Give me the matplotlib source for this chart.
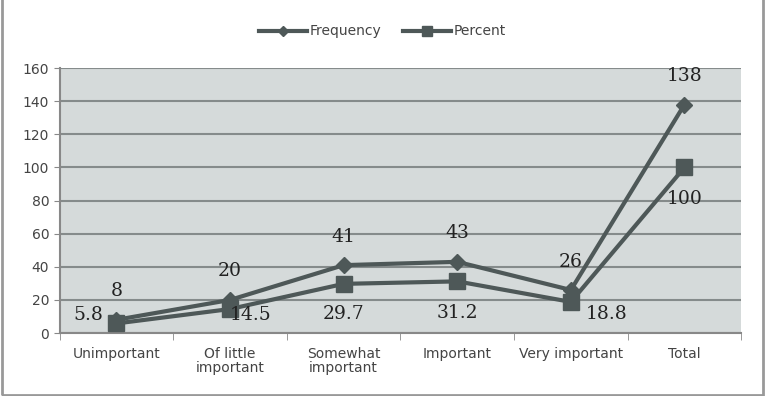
import matplotlib.pyplot as plt
from matplotlib.patches import Rectangle

# data
categories = ["Unimportant", "Of little\nimportant", "Somewhat\nimportant",
              "Important", "Very important", "Total"]
frequency = [8, 20, 41, 43, 26, 138]
percent = [5.8, 14.5, 29.7, 31.2, 18.8, 100]
yticks = [0, 20, 40, 60, 80, 100, 120, 140, 160]

line_col = "#4e5858"
bg_col = "#d5dada"
grid_col = "#858b8b"

fig = plt.figure(figsize=(7.65, 3.96), dpi=100)
ax = fig.add_axes([0.078, 0.159, 0.891, 0.669])
ax.set_facecolor(bg_col)

x = list(range(len(categories)))
ax.plot(x, frequency, color=line_col, lw=3, marker="D", ms=8,
        label="Frequency", zorder=3)
ax.plot(x, percent, color=line_col, lw=3, marker="s", ms=11,
        label="Percent", zorder=3)

# data labels
lab_font = dict(family="DejaVu Serif", fontsize=13.5, color="#222222")
freq_off = [(0, 14), (0, 14), (0, 14), (0, 14), (0, 14), (0, 14)]
for i, v in enumerate(frequency):
    ax.annotate(str(v), (i, v), xytext=freq_off[i], textcoords="offset points",
                ha="center", va="bottom", **lab_font)
pct_off = [(-20, 6), (15, -4), (0, -22), (0, -23), (26, -9), (0, -23)]
for i, v in enumerate(percent):
    ax.annotate(str(v), (i, v), xytext=pct_off[i], textcoords="offset points",
                ha="center", va="center", **lab_font)

ax.set_xlim(-0.5, len(categories) - 0.5)
ax.set_ylim(0, 160)
ax.set_yticks(yticks)
ax.yaxis.grid(True, color=grid_col, lw=1.5)
ax.set_axisbelow(True)

ax.set_xticks(x)
ax.set_xticklabels(categories, fontsize=10, color="#444444", linespacing=1.0)
ax.set_xticks([i + 0.5 for i in range(-1, len(categories))], minor=True)
ax.tick_params(axis="x", which="major", length=0, pad=10)
ax.tick_params(axis="x", which="minor", length=5, color="#888888")
ax.tick_params(axis="y", length=4, color="#888888", labelsize=10,
               labelcolor="#444444")

for s in ["top", "right"]:
    ax.spines[s].set_visible(False)
ax.spines["left"].set_color("#888888")
ax.spines["bottom"].set_color("#888888")
ax.spines["left"].set_linewidth(1.5)
ax.spines["bottom"].set_linewidth(1.5)

fig.legend(loc="upper center", bbox_to_anchor=(0.5, 0.97), ncol=2,
           frameon=False, fontsize=10, handlelength=3.5, columnspacing=1.5,
           handletextpad=0.2, labelcolor="#444444", markerscale=0.6)

# outer frame
fig.patches.append(Rectangle((0.003, 0.003), 0.994, 1.2, transform=fig.transFigure,
                             fill=False, edgecolor="#999999", lw=2))

fig.savefig("out.png", dpi=100)
